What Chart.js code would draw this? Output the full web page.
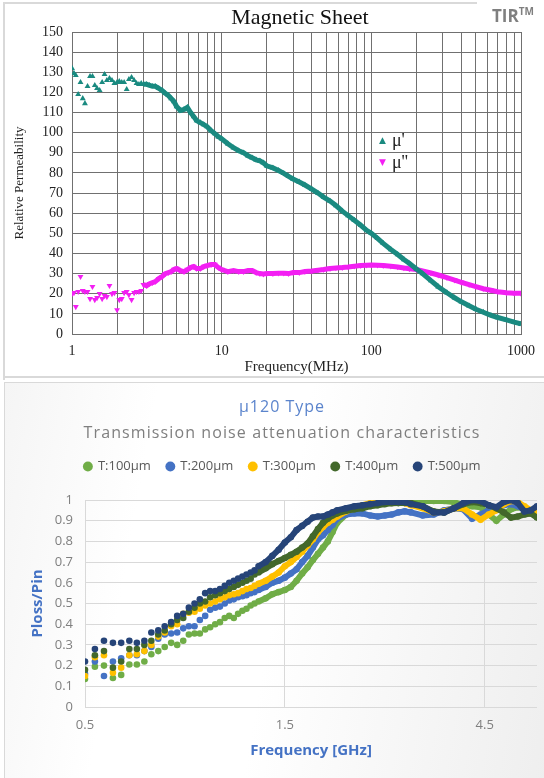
<!DOCTYPE html>
<html>
<head>
<meta charset="utf-8">
<script src="https://cdn.jsdelivr.net/npm/chart.js"></script>
<style>
  body { margin: 0; width: 544px; height: 778px; position: relative; background: #fff; overflow: hidden; }
  .abs { position: absolute; }
  #topFrame { left: 3px; top: 2px; width: 472px; height: 376px; border-top: 2px solid #d9d9d9; border-left: 2px solid #d9d9d9; }
  #topBase { left: 3px; top: 376px; width: 541px; height: 2px; background: #d9d9d9; }
  #bottomPanel { left: 4px; top: 382px; width: 545px; height: 400px; border: 1px solid #d9d9d9;
    background: linear-gradient(100deg, #f5f5f5 0%, #ffffff 25%, #ffffff 50%, #eeeeee 100%); }
  #magTitle { left: 150px; top: 4px; width: 300px; text-align: center; font: 22px 'Liberation Serif'; color: #111; line-height: 26px; }
  #tir { left: 492px; top: 4px; font: bold 17px 'Open Sans'; color: #7f7f7f; }
  #tir sup { font-size: 10px; }
  .leg { font: 18px 'Liberation Serif'; color: #222; line-height: 20px; }
  .leg span { font: 9px 'DejaVu Sans'; vertical-align: 3px; margin-right: 6px; }
  #t1 { left: 0; top: 395px; width: 564px; text-align: center; font: 16px 'Open Sans'; letter-spacing: 1px; color: #5b84cc; }
  #t2 { left: 0; top: 421px; width: 564px; text-align: center; font: 16px 'Open Sans'; letter-spacing: 1.1px; color: #7f7f7f; }
</style>
</head>
<body>
<div id="topFrame" class="abs"></div>
<div id="topBase" class="abs"></div>
<div id="bottomPanel" class="abs"></div>
<canvas id="magChart" class="abs" style="left:0;top:0" width="544" height="380"></canvas>
<canvas id="noiseChart" class="abs" style="left:0;top:383px" width="544" height="395"></canvas>
<div id="magTitle" class="abs">Magnetic Sheet</div>
<div id="tir" class="abs">TIR<sup>TM</sup></div>
<div class="abs leg" style="left:379px;top:130px"><span style="color:#1a8a80">▲</span>μ'</div>
<div class="abs leg" style="left:379px;top:152px"><span style="color:#f31ff3">▼</span>μ''</div>
<div id="t1" class="abs">μ120 Type</div>
<div id="t2" class="abs">Transmission noise attenuation characteristics</div>

<script>
// --- Magnetic Sheet (MHz vs relative permeability) ---
const freqMHz = [
  1.0, 1.03, 1.06, 1.1, 1.14, 1.18, 1.22, 1.27, 1.32, 1.37,
  1.42, 1.47, 1.53, 1.59, 1.65, 1.71, 1.78, 1.85, 1.92, 2.0,
  2.07, 2.15, 2.23, 2.32, 2.4, 2.5, 2.6, 2.7, 2.8, 2.9,
  3.0, 3.15, 3.3, 3.45, 3.6, 3.8, 4.0, 4.2, 4.4, 4.6,
  4.8, 5.0, 5.3, 5.6, 5.9, 6.2, 6.5, 6.8, 7.2, 7.6,
  8.0, 8.5, 9.0, 9.5, 10, 11, 12, 13, 14, 15,
  16, 17, 18, 19, 20, 22, 24, 26, 28, 30,
  33, 36, 40, 44, 48, 53, 58, 64, 70, 77,
  85, 93, 100, 110, 120, 135, 150, 165, 180, 200,
  220, 250, 280, 320, 360, 400, 450, 500, 560, 630,
  700, 800, 900, 1000
];
const muReal = [
  132, 129.5, 128.5, 119, 125, 117, 114.5, 123, 128, 128,
  123.5, 122, 121, 125, 129, 126, 127, 126, 124.5, 125,
  125.5, 125, 125, 121.5, 126.5, 127.5, 126, 124.5, 124, 124.5,
  124, 124, 123.5, 123, 123, 122, 121, 119.5, 118.5, 117,
  115.5, 113, 111, 111.5, 112.5, 110, 108, 106, 105, 104,
  103, 101, 99.5, 98, 97, 94.5, 92.5, 91, 90, 88.5,
  87.5, 86.5, 86, 85, 83.5, 82.5, 81.2, 79.8, 78.3, 77,
  75.5, 74, 72, 70, 68, 66, 63.8, 61, 58.8, 56.5,
  54, 51.5, 50, 47.5, 45, 42, 39.5, 37, 35, 32.3,
  30, 26.5, 23.5, 20.5, 18, 16, 14, 12.3, 10.8, 9.3,
  8.2, 7, 5.9, 5
];
const muImag = [
  20, 20.5, 13.5, 21, 28.5, 21.5, 21, 21, 17.5, 23.5,
  17, 18, 20, 17.5, 19, 18.5, 24, 20, 20.5, 12,
  17, 17.5, 20.5, 21, 19.5, 17, 20.5, 21, 21, 21.5,
  24.5, 24, 25, 25.5, 26, 27.5, 28.5, 30, 30.5, 31,
  32, 32.5, 31.5, 31, 32, 33, 33.5, 32.5, 32.5, 33.5,
  34, 34.5, 34.5, 33, 32, 31, 31.5, 31, 31, 31.5,
  31.5, 30.5, 30, 29.8, 30, 30, 30.2, 30.2, 30, 30.5,
  30.5, 31, 31.3, 31.7, 32, 32.5, 32.8, 33, 33.3, 33.7,
  34, 34.2, 34.3, 34.2, 34, 33.7, 33.3, 32.8, 32.4, 32,
  31.3, 30.3, 29.3, 28, 26.8, 25.7, 24.5, 23.5, 22.5, 21.7,
  21, 20.5, 20.3, 20.2
];
const mhzTickLabels = [1, 10, 100, 1000];

// --- μ120 Type (GHz vs Ploss/Pin) ---
const freqGHz = [
  0.5, 0.528, 0.555, 0.583, 0.61, 0.638, 0.665, 0.693, 0.72, 0.748,
  0.775, 0.803, 0.83, 0.858, 0.885, 0.913, 0.94, 0.968, 0.995, 1.023,
  1.05, 1.078, 1.105, 1.133, 1.16, 1.188, 1.215, 1.243, 1.27, 1.298,
  1.35, 1.4, 1.45, 1.5, 1.55, 1.6, 1.65, 1.7, 1.75, 1.8,
  1.85, 1.9, 1.95, 2.0, 2.1, 2.2, 2.3, 2.4, 2.5, 2.6,
  2.7, 2.8, 2.9, 3.0, 3.2, 3.4, 3.6, 3.8, 4.0, 4.2,
  4.4, 4.6, 4.8, 5.0, 5.2, 5.4, 5.6, 5.8, 6.0
];
const seriesNames = ['T:100μm', 'T:200μm', 'T:300μm', 'T:400μm', 'T:500μm'];
const t100 = [
  0.135, 0.195, 0.2, 0.14, 0.155, 0.205, 0.205, 0.22, 0.255, 0.27,
  0.29, 0.31, 0.3, 0.32, 0.35, 0.355, 0.355, 0.375, 0.385, 0.4,
  0.41, 0.43, 0.44, 0.43, 0.45, 0.465, 0.475, 0.49, 0.5, 0.51,
  0.525, 0.545, 0.555, 0.565, 0.58, 0.61, 0.645, 0.675, 0.71, 0.74,
  0.77, 0.8, 0.845, 0.89, 0.93, 0.955, 0.97, 0.98, 0.985, 0.99,
  0.99, 0.99, 0.99, 0.99, 0.995, 0.995, 0.995, 0.99, 0.975, 0.97,
  0.965, 0.93, 0.9, 0.93, 0.955, 0.965, 0.96, 0.95, 0.92
];
const t200 = [
  0.16, 0.22, 0.15, 0.22, 0.235, 0.25, 0.25, 0.27, 0.29, 0.33,
  0.35, 0.355, 0.36, 0.38, 0.39, 0.39, 0.42, 0.44, 0.47, 0.48,
  0.485, 0.5, 0.515, 0.52, 0.53, 0.535, 0.54, 0.55, 0.555, 0.565,
  0.58, 0.6, 0.61, 0.625, 0.645, 0.665, 0.7, 0.73, 0.77, 0.81,
  0.83, 0.855, 0.88, 0.91, 0.93, 0.935, 0.935, 0.925, 0.92, 0.925,
  0.93, 0.94, 0.945, 0.94, 0.925, 0.93, 0.95, 0.96, 0.955, 0.91,
  0.93, 0.95, 0.96, 0.975, 0.98, 0.97, 0.955, 0.95, 0.945
];
const t300 = [
  0.15, 0.24, 0.25, 0.165, 0.19, 0.25, 0.255, 0.27, 0.3, 0.34,
  0.36, 0.39, 0.4, 0.45, 0.455, 0.46, 0.475, 0.49, 0.5, 0.51,
  0.52, 0.53, 0.54, 0.545, 0.55, 0.56, 0.57, 0.575, 0.585, 0.595,
  0.61, 0.63, 0.65, 0.68, 0.7, 0.725, 0.75, 0.78, 0.81, 0.845,
  0.87, 0.89, 0.905, 0.92, 0.945, 0.96, 0.975, 0.985, 0.995, 1.0,
  0.995, 0.99, 0.985, 0.975, 0.96, 0.94, 0.945, 0.96, 0.96, 0.93,
  0.905, 0.93, 0.95, 0.98, 0.995, 0.99, 0.97, 0.95, 0.935
];
const t400 = [
  0.18, 0.25, 0.27, 0.19, 0.22, 0.28, 0.28, 0.3, 0.32, 0.35,
  0.37, 0.4, 0.42, 0.43, 0.46, 0.48, 0.5, 0.51, 0.53, 0.54,
  0.55, 0.56, 0.57, 0.58, 0.59, 0.6, 0.61, 0.62, 0.64, 0.65,
  0.67, 0.69, 0.705, 0.72, 0.735, 0.75, 0.77, 0.79, 0.825, 0.86,
  0.89, 0.91, 0.925, 0.935, 0.948, 0.955, 0.96, 0.97, 0.975, 0.98,
  0.984, 0.985, 0.986, 0.985, 0.97, 0.945, 0.94, 0.96, 0.98, 0.99,
  0.985, 0.975, 0.96, 0.94, 0.915, 0.92, 0.93, 0.935, 0.915
];
const t500 = [
  0.22, 0.28, 0.32, 0.31, 0.31, 0.32, 0.31, 0.32, 0.36, 0.37,
  0.39, 0.41, 0.44, 0.45, 0.48, 0.5, 0.52, 0.55, 0.56, 0.56,
  0.57, 0.585, 0.6, 0.61, 0.62, 0.63, 0.64, 0.65, 0.66, 0.68,
  0.7, 0.73, 0.76, 0.795, 0.82, 0.855, 0.875, 0.895, 0.915, 0.92,
  0.92, 0.93, 0.94, 0.95, 0.96, 0.97, 0.975, 0.98, 0.985, 0.99,
  0.99, 0.99, 0.99, 0.98, 0.97, 0.94, 0.94, 0.96, 0.985, 1.0,
  0.995, 0.975, 0.965, 0.99, 1.0, 0.985, 0.945, 0.95, 0.97
];
const ghzTickLabels = [0.5, 1.5, 4.5];
const seriesColors = ['#70ad47', '#4472c4', '#ffc000', '#43682b', '#264478'];

const toXY = (xs, ys) => xs.map((x, i) => ({ x: x, y: ys[i] }));
const hideBelow = (limit) => (c) => c.p0.parsed.x < limit ? 'rgba(0,0,0,0)' : undefined;

// gridlines at 1..9 of every decade
const mhzGrid = [];
for (const d of [1, 10, 100]) for (let m = 1; m < 10; m++) mhzGrid.push(d * m);
mhzGrid.push(1000);

const serif = 'Liberation Serif';
const gridGrey = '#707070';
new Chart(document.getElementById('magChart'), {
  type: 'scatter',
  data: {
    datasets: [
      { label: "μ'", data: toXY(freqMHz, muReal), showLine: true, borderColor: '#1a8a80', borderWidth: 5,
        backgroundColor: '#1a8a80', pointStyle: 'triangle', pointRadius: 3.4, pointBorderWidth: 0,
        segment: { borderColor: hideBelow(3) } },
      { label: "μ''", data: toXY(freqMHz, muImag), showLine: true, borderColor: '#f31ff3', borderWidth: 5,
        backgroundColor: '#f31ff3', pointStyle: 'triangle', pointRotation: 180, pointRadius: 3.4, pointBorderWidth: 0,
        segment: { borderColor: hideBelow(3) } }
    ]
  },
  options: {
    responsive: false,
    animation: false,
    layout: { padding: { top: 32, right: 22, left: 0, bottom: 0 } },
    plugins: { legend: { display: false }, tooltip: { enabled: false } },
    scales: {
      x: {
        type: 'logarithmic', min: 1, max: 1000,
        afterBuildTicks: s => { s.ticks = mhzGrid.map(v => ({ value: v })); },
        afterFit: s => { s.height = 46; },
        ticks: { autoSkip: false, maxRotation: 0, padding: 9, color: '#222', font: { family: serif, size: 14 },
          callback: v => mhzTickLabels.includes(v) ? String(v) : '' },
        grid: { color: gridGrey, drawTicks: false },
        border: { color: gridGrey },
        title: { display: true, text: 'Frequency(MHz)', color: '#222', font: { family: serif, size: 15 },
          padding: { top: 0, bottom: 4 } }
      },
      y: {
        min: 0, max: 150,
        afterFit: s => { s.width = 72; },
        ticks: { stepSize: 10, padding: 9, color: '#222', font: { family: serif, size: 14 } },
        grid: { color: gridGrey, drawTicks: false },
        border: { color: gridGrey },
        title: { display: true, text: 'Relative Permeability', color: '#222', font: { family: serif, size: 13 },
          padding: { top: 12, bottom: 0 } }
      }
    }
  }
});

const sans = 'Open Sans';
const seriesValues = [t100, t200, t300, t400, t500];
// keep the legend below the titles and leave room before the plot
const legendGap = {
  id: 'legendGap',
  beforeInit(chart) {
    const fit = chart.legend.fit;
    chart.legend.fit = function () { fit.call(this); this.height = 56; };
  }
};
new Chart(document.getElementById('noiseChart'), {
  type: 'scatter',
  data: {
    datasets: seriesValues.map((vals, i) => ({
      label: seriesNames[i],
      data: toXY(freqGHz, vals),
      order: 5 - i,
      showLine: true,
      borderColor: seriesColors[i],
      borderWidth: 6,
      backgroundColor: seriesColors[i],
      pointRadius: 3.3,
      pointBorderWidth: 0,
      segment: { borderColor: hideBelow(1.28) }
    }))
  },
  options: {
    responsive: false,
    animation: false,
    layout: { padding: { top: 61, right: 7, left: 28, bottom: 0 } },
    plugins: {
      tooltip: { enabled: false },
      legend: {
        position: 'top',
        labels: { usePointStyle: true, pointStyle: 'circle', boxWidth: 7, boxHeight: 7, padding: 16,
          color: '#595959', font: { family: sans, size: 13 },
          sort: (a, b) => a.datasetIndex - b.datasetIndex }
      }
    },
    scales: {
      x: {
        type: 'logarithmic', min: 0.5, max: 6,
        afterBuildTicks: s => { s.ticks = ghzTickLabels.map(v => ({ value: v })); },
        afterFit: s => { s.height = 71; },
        ticks: { autoSkip: false, maxRotation: 0, padding: 10, color: '#7f7f7f', font: { family: sans, size: 13 },
          callback: v => String(v) },
        grid: { color: '#d9d9d9', drawTicks: false },
        border: { display: false },
        title: { display: true, text: 'Frequency [GHz]', color: '#4472c4', font: { family: sans, size: 15, weight: 'bold' },
          padding: { top: 0, bottom: 18 } }
      },
      y: {
        min: 0, max: 1,
        afterFit: s => { s.width = 57; },
        ticks: { stepSize: 0.1, padding: 12, color: '#7f7f7f', font: { family: sans, size: 13 },
          callback: v => String(+v.toFixed(1)) },
        grid: { color: '#d9d9d9', drawTicks: false },
        border: { display: false },
        title: { display: true, text: 'Ploss/Pin', color: '#4472c4', font: { family: sans, size: 15, weight: 'bold' },
          padding: { top: 1, bottom: 0 } }
      }
    }
  },
  plugins: [legendGap]
});
</script>
</body>
</html>
